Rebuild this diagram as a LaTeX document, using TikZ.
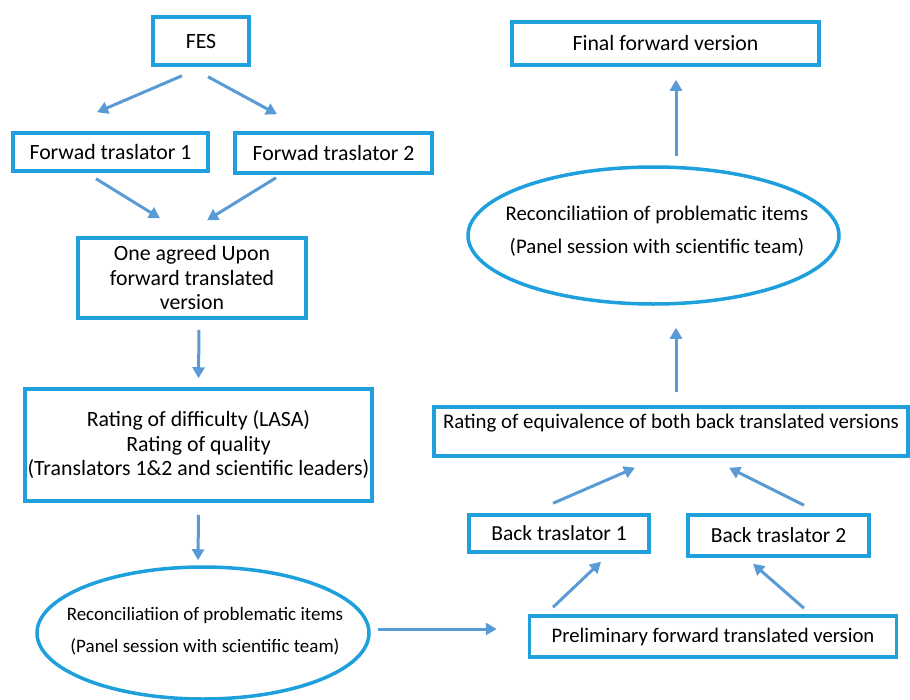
\documentclass[tikz,border=0pt]{standalone}
\usepackage{fontspec}
\setmainfont{Carlito}
\usetikzlibrary{arrows.meta,shapes.geometric,calc}
\definecolor{boxc}{RGB}{30,160,220}
\definecolor{arrc}{RGB}{91,155,213}
\begin{document}
\begin{tikzpicture}[x=1pt,y=-1pt,
  box/.style={draw=boxc, line width=3.5pt, fill=white, inner sep=2pt, align=center,
    font=\fontsize{21.8}{24.5}\selectfont, anchor=center},
  oval/.style={ellipse, draw=boxc, line width=3.5pt, fill=white, inner sep=0pt, anchor=center},
  txt/.style={inner sep=0pt, align=center, font=\fontsize{20.8}{24}\selectfont},
  arr/.style={draw=arrc, line width=3pt, -{Triangle[length=11pt,width=12pt]}}
]
\useasboundingbox (0,0) rectangle (910,699);

% nodes
\node[box, minimum width=96, minimum height=48] (fes) at (201,41) {FES};
\node[box, minimum width=195, minimum height=38] (ft1) at (110.5,152) {Forwad traslator 1};
\node[box, minimum width=197, minimum height=40] (ft2) at (333.5,153) {Forwad traslator 2};
\node[box, minimum width=228, minimum height=80] (one) at (192,278) {One agreed Upon\\forward translated\\version};
\node[box, minimum width=347, minimum height=112] (rat) at (198.5,445) {Rating of difficulty (LASA)\\Rating of quality\\(Translators 1\&2 and scientific leaders)};
\node[oval, minimum width=332, minimum height=132] (ell) at (203,633) {};
\node[txt, font=\fontsize{19}{32}\selectfont] (elltxt) at (205,631) {Reconciliatiion of problematic items\\(Panel session with scientific team)};
\node[box, minimum width=367, minimum height=41, font=\fontsize{20.7}{24}\selectfont] (pre) at (713,636.5) {Preliminary forward translated version};
\node[box, minimum width=180, minimum height=37, font=\fontsize{21.5}{24}\selectfont] (bt1) at (559,533.5) {Back traslator 1};
\node[box, minimum width=181, minimum height=41, font=\fontsize{21.5}{24}\selectfont] (bt2) at (778.5,535.5) {Back traslator 2};
\node[box, minimum width=474, minimum height=49] (eq) at (671,431.5) {};
\node[txt] (eqtxt) at (671,423) {Rating of equivalence of both back translated versions};
\node[oval, minimum width=371, minimum height=137] (ell2) at (653.5,235.5) {};
\node[txt, font=\fontsize{20.8}{33}\selectfont] (ell2txt) at (657,231) {Reconciliatiion of problematic items\\(Panel session with scientific team)};
\node[box, minimum width=307, minimum height=43] (fin) at (665.5,43.5) {Final forward version};

% connectors
\draw[arr] ($(fes.south)+(-19,9)$) -- ($(ft1.north)+(-13.5,-19)$);
\draw[arr] ($(fes.south)+(7,10)$) -- ($(ft2.north)+(-56.5,-17)$);
\draw[arr] ($(ft1.south)+(-14.5,6)$) -- ($(one.north)+(-32,-18)$);
\draw[arr] ($(ft2.south)+(-57.5,3)$) -- ($(one.north)+(15,-16)$);
\draw[arr] ($(one.south)+(7,10)$) -- ($(rat.north)+(0,-9)$);
\draw[arr] ($(rat.south)+(0,12)$) -- ($(ell.north)+(-5,-5)$);
\draw[arr] ($(ell.east)+(7,-4)$) -- ($(pre.west)+(-31,-7.5)$);
\draw[arr] ($(pre.north)+(-160,-7)$) -- ($(bt1.south)+(42,8)$);
\draw[arr] ($(pre.north)+(91,-6)$) -- ($(bt2.south)+(-25.5,6)$);
\draw[arr] ($(bt1.north)+(-6,-10)$) -- ($(eq.south)+(-36,10)$);
\draw[arr] ($(bt2.north)+(25.5,-8)$) -- ($(eq.south)+(58,10)$);
\draw[arr] ($(eq.north)+(5,-13)$) -- ($(ell2.south)+(22.5,22)$);
\draw[arr] ($(ell2.north)+(22.5,-9)$) -- ($(fin.south)+(10.5,13)$);
\end{tikzpicture}
\end{document}
